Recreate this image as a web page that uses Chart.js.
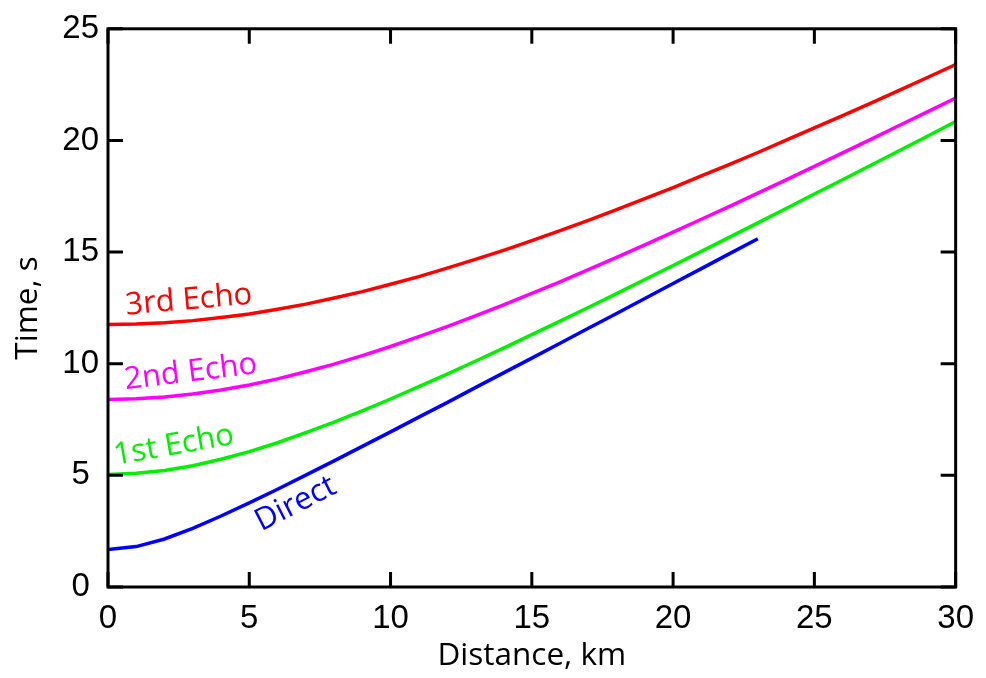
<!DOCTYPE html>
<html><head><meta charset="utf-8">
<script src="https://cdn.jsdelivr.net/npm/chart.js@4/dist/chart.umd.min.js"></script>
<style>html,body{margin:0;padding:0;background:#fff;}#wrap{width:986px;height:678px;}</style>
</head><body><div id="wrap"><canvas id="c" width="986" height="678"></canvas></div>
<script>
// Distance (km) sample positions
const echoDistanceKm = [0,1,2,3,4,5,6,7,8,9,10,11,12,13,14,15,16,17,18,19,20,21,22,23,24,25,26,27,28,29,30];
const directDistanceKm = [0,1,2,3,4,5,6,7,8,9,10,11,12,13,14,15,16,17,18,19,20,21,22,23];
// Travel times (s)
const directTime = [1.68,1.81,2.15,2.63,3.18,3.77,4.38,5.01,5.65,6.30,6.95,7.61,8.26,8.93,9.59,10.25,10.92,11.59,12.25,12.92,13.59,14.26,14.93,15.60];
const echo1Time = [5.04,5.09,5.22,5.43,5.72,6.06,6.46,6.91,7.38,7.89,8.42,8.97,9.53,10.11,10.70,11.30,11.91,12.52,13.14,13.77,14.40,15.03,15.67,16.31,16.95,17.60,18.24,18.89,19.54,20.19,20.85];
const echo2Time = [8.40,8.43,8.51,8.64,8.82,9.05,9.32,9.64,9.98,10.36,10.77,11.21,11.66,12.14,12.64,13.15,13.67,14.21,14.76,15.32,15.89,16.47,17.05,17.64,18.23,18.84,19.44,20.05,20.67,21.28,21.90];
const echo3Time = [11.76,11.78,11.84,11.93,12.07,12.23,12.44,12.67,12.94,13.23,13.56,13.90,14.28,14.67,15.08,15.51,15.96,16.42,16.90,17.39,17.89,18.41,18.93,19.46,20.01,20.56,21.11,21.67,22.24,22.82,23.40];
const seriesNames = ['Direct','1st Echo','2nd Echo','3rd Echo'];
const seriesColors = ['#0000ff','#00f000','#ff00ff','#ff0000'];
const xTickValues = [0,5,10,15,20,25,30];
const yTickValues = [0,5,10,15,20,25];

const pairs = (xs, ys) => xs.map((x, i) => ({x: x, y: ys[i]}));

// curve label placement (data coords) and rotation in degrees
const curveLabels = [
  {text: seriesNames[3], color: seriesColors[3], x: 2.86, y: 12.84, angle: -5},
  {text: seriesNames[2], color: seriesColors[2], x: 2.93, y: 9.61, angle: -7},
  {text: seriesNames[1], color: seriesColors[1], x: 2.33, y: 6.33, angle: -10},
  {text: seriesNames[0], color: seriesColors[0], x: 6.64, y: 3.72, angle: -27}
];

const framePlugin = {
  id: 'frame',
  afterDatasetsDraw(chart) {
    const {ctx, chartArea: a, scales: {x, y}} = chart;
    ctx.save();
    ctx.strokeStyle = '#000';
    ctx.lineWidth = 3;
    ctx.lineCap = 'butt';
    ctx.lineJoin = 'miter';
    ctx.strokeRect(a.left, a.top, a.right - a.left, a.bottom - a.top);
    const L = 15;
    ctx.beginPath();
    xTickValues.forEach(v => {
      const px = x.getPixelForValue(v);
      ctx.moveTo(px, a.bottom); ctx.lineTo(px, a.bottom - L);
      ctx.moveTo(px, a.top); ctx.lineTo(px, a.top + L);
    });
    yTickValues.forEach(v => {
      const py = y.getPixelForValue(v);
      ctx.moveTo(a.left, py); ctx.lineTo(a.left + L, py);
      ctx.moveTo(a.right, py); ctx.lineTo(a.right - L, py);
    });
    ctx.stroke();
    ctx.font = '31px "Open Sans"';
    ctx.textAlign = 'center';
    ctx.textBaseline = 'middle';
    curveLabels.forEach(l => {
      ctx.save();
      ctx.translate(x.getPixelForValue(l.x), y.getPixelForValue(l.y));
      ctx.rotate(l.angle * Math.PI / 180);
      ctx.fillStyle = l.color;
      ctx.fillText(l.text, 0, 0);
      ctx.restore();
    });
    ctx.restore();
  }
};

new Chart(document.getElementById('c'), {
  type: 'line',
  data: {
    datasets: [
      {label: seriesNames[0], data: pairs(directDistanceKm, directTime), borderColor: seriesColors[0]},
      {label: seriesNames[1], data: pairs(echoDistanceKm, echo1Time), borderColor: seriesColors[1]},
      {label: seriesNames[2], data: pairs(echoDistanceKm, echo2Time), borderColor: seriesColors[2]},
      {label: seriesNames[3], data: pairs(echoDistanceKm, echo3Time), borderColor: seriesColors[3]}
    ]
  },
  options: {
    responsive: false,
    devicePixelRatio: 1,
    animation: false,
    layout: {padding: {top: 22, right: 29, left: 0, bottom: 0}},
    elements: {point: {radius: 0}, line: {borderWidth: 3.5, tension: 0, fill: false}},
    plugins: {legend: {display: false}, tooltip: {enabled: false}},
    scales: {
      x: {
        type: 'linear', min: 0, max: 30,
        afterBuildTicks: s => { s.ticks = xTickValues.map(v => ({value: v})); },
        ticks: {font: {family: 'Liberation Sans', size: 33}, color: '#000', padding: 12, maxRotation: 0, autoSkip: false},
        grid: {display: false, drawTicks: false},
        border: {display: false},
        title: {display: true, text: 'Distance, km', color: '#000', font: {family: 'Open Sans', size: 31.5}, padding: {top: 0, bottom: 3}},
        afterFit: s => { s.height = 91; }
      },
      y: {
        type: 'linear', min: 0, max: 25,
        afterBuildTicks: s => { s.ticks = yTickValues.map(v => ({value: v})); },
        ticks: {font: {family: 'Liberation Sans', size: 33}, color: '#000', padding: 9, crossAlign: 'center', autoSkip: false},
        grid: {display: false, drawTicks: false},
        border: {display: false},
        title: {display: true, text: 'Time, s', color: '#000', font: {family: 'Open Sans', size: 31.5}, padding: {top: 9, bottom: 0}},
        afterFit: s => { s.width = 108; }
      }
    }
  },
  plugins: [framePlugin]
});
</script>
</body></html>
